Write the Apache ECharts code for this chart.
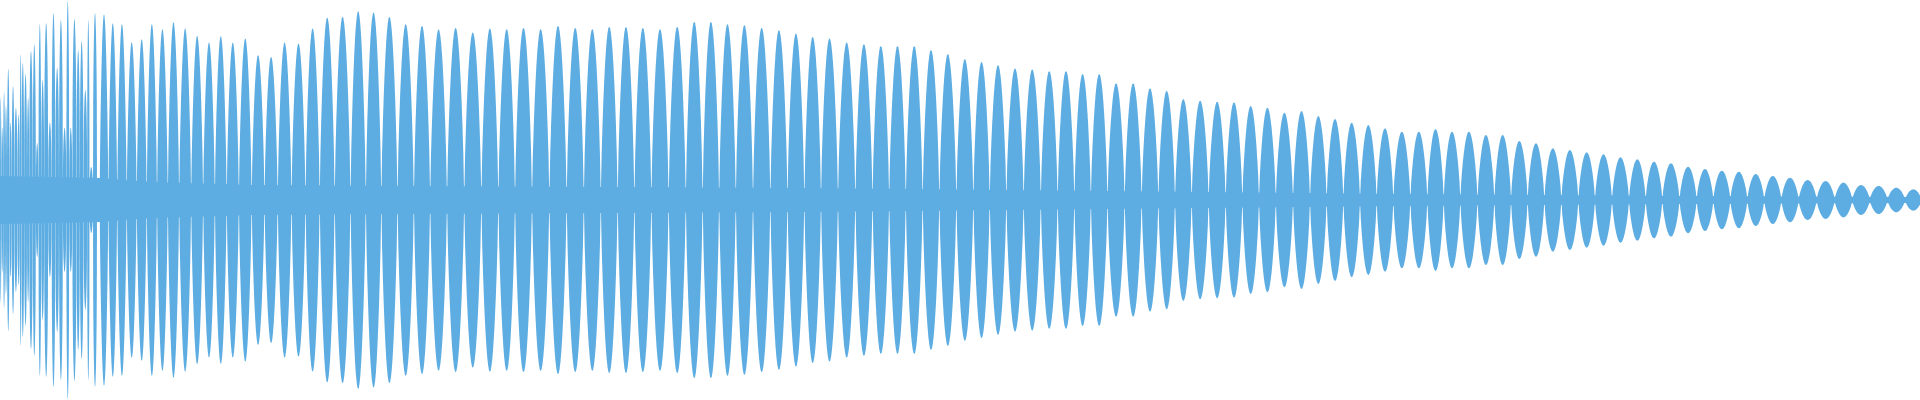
<!DOCTYPE html>
<html>
<head>
<meta charset="utf-8">
<style>
  html, body { margin: 0; padding: 0; background: #fff; }
  #chart { width: 1920px; height: 400px; }
</style>
<script src="https://cdn.jsdelivr.net/npm/echarts@6/dist/echarts.min.js"></script>
</head>
<body>
<div id="chart"></div>
<script>
// thin spikes at the start of the wave: position and half height
var spikeX = [0.7, 2, 4.3, 5.7, 8.3, 10.7, 12.7, 16, 19, 20.7, 22.3, 26, 28, 30.5, 35, 36.7, 40.3, 42,
  46.3, 50, 53.3, 57.3, 60.7, 65, 67.7, 70.7, 74, 79, 80.7, 86.3, 88, 91, 95];
var spikeAmp = [103, 72, 108, 94, 131, 77, 114, 92, 85, 146, 137, 126, 102, 149, 156, 57, 176, 120,
  177, 77, 187, 132, 180, 72, 199, 72, 181, 150, 159, 110, 180, 33, 187];

// lobes of the wave: centre position and half height
var lobeX = [104, 112.7, 121.7, 131.7, 141.7, 151.7, 162.3, 173.3,
  185, 197.3, 209, 220.7, 232.7, 245, 258.3, 270.7, 284.7, 298.3, 312.7, 326.7, 342.7, 358.3, 373.3,
  389.3, 405.7, 422, 438.3, 455.7, 472.7, 490, 506.7, 523.3, 540.7, 558, 575.3,
  592.3, 609.3, 626, 642.7, 660, 677.3, 694.3, 711, 727.3, 744.3, 761.7, 779, 796, 812.7, 829.3,
  846.7, 864, 881, 897.3, 914.3, 931, 947.7, 965,
  981.7, 997.7, 1015, 1032.3, 1049.3, 1066, 1082.7, 1099, 1116, 1133.3, 1150, 1166.7, 1183.3, 1200,
  1217.3, 1234, 1250.7, 1267.3, 1284.3, 1301.7, 1318.3, 1335, 1351.7, 1368.3,
  1385, 1401.7, 1419, 1435.7, 1451.7, 1469, 1486, 1502.7, 1519.3, 1536, 1552.7, 1570, 1586.7, 1603.3,
  1620.7, 1637.3, 1654, 1670.7, 1688.3, 1705, 1721.7, 1739, 1755.7, 1772.7,
  1790, 1807.3, 1826, 1843.3, 1861.3, 1878.3, 1896.7, 1913.3];
var lobeAmp = [186, 177, 176, 158, 161, 176, 171, 178,
  171.7, 164.3, 157.7, 164, 157.7, 161.7, 145, 143.3, 157.7, 156.7, 171.7, 182.7, 183.3, 189, 187.7,
  183.3, 176, 174.3, 170.7, 172.3, 167.7, 171.7, 171, 172.3, 171, 174.3, 172.3,
  171, 173.3, 173.3, 172.3, 171, 173.3, 178.3, 178.3, 176, 175, 172.3, 170, 166.7, 163.3, 161.7,
  157.7, 156, 154, 154, 154, 150, 146, 141,
  138.3, 135, 131.7, 130.7, 129, 129, 126, 126, 116.7, 116.7, 111.7, 109.3, 101, 99.3,
  98.3, 97.7, 94, 92.3, 87.3, 89, 84, 81, 77.3, 75,
  71.7, 68.3, 68.3, 71, 68.3, 68.3, 65, 65, 59, 56.7, 51.7, 50, 47.7, 45.7,
  42.7, 40.7, 38.3, 36.7, 33.3, 31, 29.3, 28.3, 26, 24,
  22.3, 20, 19, 17.3, 15, 14, 12.3, 10.7];

// solid band around the zero line
var coreX = [0, 100, 150, 250, 400, 600, 800, 1000, 1200, 1400, 1600, 1800, 1920];
var coreAmp = [24, 22, 18, 15, 14, 13, 12, 10, 8, 6, 4.5, 3.5, 3];

var color = '#5dade2';

function pairs(xs, ys, sign) {
  return xs.map(function (x, i) { return [x, sign * ys[i]]; });
}

// p: how full the lobe shape is (small = boxy, 1 = plain sine arch)
function lensRenderer(xs, amps, p) {
  return function (params, api) {
    var i = params.dataIndex;
    var x = xs[i];
    var prev = i > 0 ? xs[i - 1] : x - (xs[i + 1] - x);
    var next = i < xs.length - 1 ? xs[i + 1] : x + (x - xs[i - 1]);
    var left = (prev + x) / 2;
    var right = (x + next) / 2;
    var amp = amps[i];
    var n = 20;
    var top = [], bottom = [];
    for (var k = 0; k <= n; k++) {
      var t = k / n;
      var xx = left + (right - left) * t;
      var h = amp * Math.pow(Math.sin(Math.PI * t), p);
      top.push(api.coord([xx, h]));
      bottom.unshift(api.coord([xx, -h]));
    }
    return {
      type: 'polygon',
      shape: { points: top.concat(bottom) },
      style: { fill: color }
    };
  };
}

var chart = echarts.init(document.getElementById('chart'));
chart.setOption({
  animation: false,
  grid: { left: 0, right: 0, top: 0, bottom: 0 },
  xAxis: { type: 'value', min: 0, max: 1920, show: false },
  yAxis: { type: 'value', min: -200, max: 200, show: false },
  series: [
    {
      type: 'line', data: pairs(coreX, coreAmp, 1), symbol: 'none',
      lineStyle: { width: 0 }, areaStyle: { color: color, opacity: 1 }
    },
    {
      type: 'line', data: pairs(coreX, coreAmp, -1), symbol: 'none',
      lineStyle: { width: 0 }, areaStyle: { color: color, opacity: 1 }
    },
    {
      type: 'custom', data: pairs(spikeX, spikeAmp, 1),
      renderItem: lensRenderer(spikeX, spikeAmp, 0.35)
    },
    {
      type: 'custom', data: pairs(lobeX, lobeAmp, 1),
      renderItem: lensRenderer(lobeX, lobeAmp, 0.72)
    }
  ]
});
</script>
</body>
</html>
